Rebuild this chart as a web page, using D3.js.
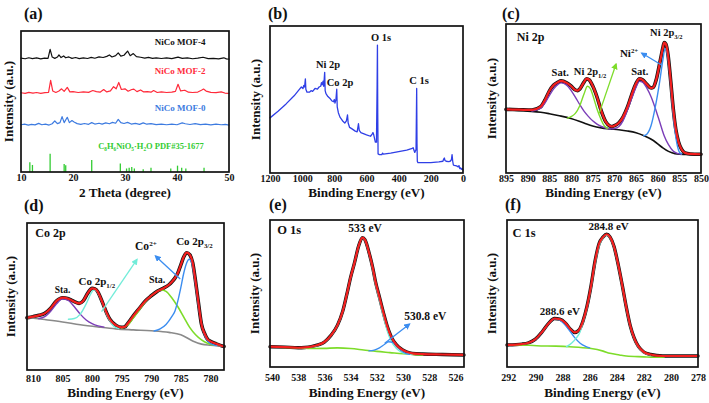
<!DOCTYPE html>
<html><head><meta charset="utf-8">
<script src="https://cdn.jsdelivr.net/npm/d3@7"></script>
<style>
body{margin:0;background:#fff}
svg text{font-family:"Liberation Serif","Times New Roman",serif;font-weight:bold}
</style>
</head><body>
<svg id="c" width="709" height="403"></svg>
<script>
// ---------------- DATA ----------------
// (a) XRD
const xrdTicks = [10, 20, 30, 40, 50];
const mof4 = [[10,80.8],[10.8,80.3],[11.5,81],[12.2,80.4],[13,80.9],[13.8,80.2],[14.5,80.7],[15.2,80.6],[15.6,87],[16,81.5],[16.5,80.6],[17,81.5],[17.3,83],[17.7,81.2],[18.2,82.3],[18.6,81],[19.2,81.6],[19.8,80.6],[20.5,81.2],[21.2,80.4],[22,80.9],[22.8,80.5],[23.5,81.3],[24.2,80.7],[25,81.6],[25.8,81.2],[26.5,82],[27,83],[27.5,81.6],[28.2,82.5],[28.7,84.5],[29.2,82.2],[29.8,82.8],[30.5,85.8],[31,82.5],[31.6,84],[32.2,81.8],[33,81.4],[33.8,80.8],[34.5,81.3],[35.3,80.6],[36,81],[37,80.5],[38,80.9],[39,80.4],[40.2,81.5],[41,80.6],[42,80.9],[43,80.3],[44,80.7],[45,81.4],[46,80.4],[47,80.6],[48,80.2],[49,81],[49.5,80.2],[50,80]];
const mof2 = [[10,56.2],[10.8,55.8],[11.5,56.5],[12.3,55.9],[13,56.4],[13.8,55.8],[14.6,56.3],[15.3,56.5],[15.7,65],[16.1,57.5],[16.7,56.4],[17.3,57.5],[17.8,59],[18.3,57.2],[18.9,60],[19.4,56.8],[20,57],[21,56.4],[22,56.8],[23,56.5],[23.8,57.8],[24.5,57],[25.2,56.6],[25.9,58.5],[26.5,56.8],[27.2,57.5],[27.8,60.5],[28.3,59],[28.8,63.5],[29.3,58.5],[30,59],[30.6,57.3],[31.3,58.5],[31.7,58.8],[32.3,57],[33,58.2],[33.6,56.8],[34.3,57],[35,56.6],[35.5,57.8],[36.2,56.4],[37,56.8],[38,56.4],[39,56.6],[39.7,57.2],[40.2,62.2],[40.7,57.5],[41.5,58],[42.2,56.6],[43,56.4],[44,56.7],[44.7,58],[45.1,58.8],[45.6,57.4],[46.5,56.5],[47.5,56.3],[48.5,56.8],[49.2,56],[50,55.8]];
const mof0 = [[10,33.5],[10.7,33.9],[11.4,33.3],[12,33.8],[12.7,33.4],[13.4,34.5],[14,33.5],[14.7,33.9],[15.4,33.3],[16,34.2],[16.5,36.2],[17,34.3],[17.5,35],[17.9,39.3],[18.3,35],[18.9,38.8],[19.3,35],[19.8,36.5],[20.2,35.5],[20.8,34.3],[21.5,33.8],[22.2,34.4],[23,33.8],[23.6,35],[24.2,34],[25,34.6],[25.6,34],[26.3,34.8],[27,34.2],[27.6,35.2],[28.2,34.6],[28.7,37.3],[29.2,35],[29.8,34.4],[30.5,35.2],[31.2,34],[32,34.5],[32.8,33.8],[33.5,34.8],[34.2,33.9],[35,34.3],[36,33.6],[37,34],[38,33.5],[39,33.9],[40,33.5],[41,34.8],[41.6,34.2],[42.5,33.7],[43.5,34.3],[44.5,33.6],[45.5,33.9],[46.5,33.4],[47.5,34],[48.5,33.5],[49.3,33.8],[50,33.3]];
const pdfSticks = [[11.7,7],[12.2,5],[15.6,13],[18.3,5.7],[18.6,4.8],[23.6,8.5],[29.1,6],[30.3,2.5],[30.8,3],[31.3,3.5],[31.8,2.5],[33.5,2],[35,3],[38.8,2.5],[40.1,4.5],[40.9,3],[41.7,2.5],[45.2,3]];

// (b) survey
const surveyTicks = [1200, 1000, 800, 600, 400, 200, 0];
const survey = [[1200,37.5],[1150,42],[1100,47],[1050,52.5],[1020,56.5],[1005,58.5],[995,57.5],[990,59.5],[985,58.5],[980,64],[977,57],[970,55],[955,55],[945,56],[935,55.5],[920,57.5],[905,57],[895,58.5],[885,59],[880,61.5],[876,60],[870,62.5],[866,59],[860,68.5],[857,56],[852,54],[840,52],[825,50.5],[815,49],[805,48.5],[800,50],[796,47.5],[790,50],[785,57],[782,45],[775,41],[765,38],[745,35],[735,34],[725,35.5],[718,39.5],[714,34],[705,31],[690,30],[670,28.5],[658,28],[650,33.5],[645,29],[635,27.5],[600,26],[575,25],[565,26.5],[560,27.5],[555,26],[545,21],[538,21],[534,60],[532,87],[530,40],[528,13],[520,12.5],[505,12.5],[500,13.5],[495,12.8],[450,13.5],[400,14.5],[350,15.5],[320,16.5],[310,17.2],[300,14],[292,16],[288,57.5],[286,20],[284,8],[280,7],[250,7],[200,7],[150,7.5],[125,8],[120,9.5],[116,10.2],[112,8.5],[105,8],[90,7.8],[80,8],[72,9],[68,12.5],[64,8],[60,5.5],[55,5.2],[40,4.8],[30,4.2],[25,5],[20,3],[15,3.5],[10,2.5],[5,3],[0,2]];

// (c) Ni 2p
const ni2pTicks = [895, 890, 885, 880, 875, 870, 865, 860, 855, 850];
const ni2pFit = [[895,42.7],[892,42.5],[889,42.3],[887,44.5],[886,49],[885,55],[884,59],[883,61],[882.3,61.8],[881,60.5],[880,58.4],[879,55.7],[878.5,55.3],[878,56.3],[877,61],[876.4,63.3],[875.8,62.5],[875,58.5],[874,51],[873,41.5],[872,34.5],[871,31.5],[870.5,31.2],[870,31.7],[869,33.5],[868,37.5],[867,44],[866,52.5],[865,60],[864.2,63.3],[863.5,62.5],[862.5,59.5],[861.5,57],[861,57.5],[860.3,63],[859.5,74],[858.8,84],[858.5,87.5],[858.1,86.5],[857.6,79],[857,62],[856.4,43],[855.8,29],[855.2,21],[854.5,16],[853.7,13.5],[852.5,12.8],[850,12.6]];
const ni2pBg = [[895,42.3],[890,41.5],[887,40.8],[885,39.8],[883,38.6],[880,36.6],[877,33.5],[875,31.5],[873,30.3],[871,29.6],[869,29],[867,28.2],[865,27],[863,24.8],[861,21.8],[859,17.3],[857.5,14.5],[856,13],[854,12.5],[850,12.4]];
const ni2pSat1 = [[889,41.5],[887,43.5],[886,47],[885,52],[884,56.5],[883,59.5],[882.3,60.5],[881,59],[880,55.5],[879,51],[878,46],[877,41.5],[876,38],[875,35],[874,32.8],[873,31.2],[872,30.2],[871,29.7]];
const ni2p12 = [[880.8,36.8],[880,37.8],[879,40],[878,45],[877,53],[876.2,58.2],[875.5,56.5],[875,52.5],[874,43],[873,35.5],[872.5,32.5],[872,30.8],[871.5,30]];
const ni2pSat2 = [[871,29.6],[870,29.8],[869,31],[868,35],[867,42],[866,50],[865,57.5],[864.2,61.5],[863.5,61],[862.5,57],[861.5,51],[860.5,43],[859.5,34],[858.5,25],[857.5,19],[856.5,15],[855.5,13.2],[854.5,12.6]];
const ni2p32 = [[863.2,25],[862.5,26],[861.5,32],[860.5,45],[859.5,62],[858.8,76],[858.3,83.5],[857.8,80],[857.2,66],[856.6,45],[856,28],[855.4,17.5],[855,14],[854.5,12.8]];

// (d) Co 2p
const co2pTicks = [810, 805, 800, 795, 790, 785, 780];
const co2pFit = [[811,35.5],[810,36.3],[809,37.2],[808,38.5],[807,42],[806,47],[805,49.2],[804,48.5],[803.5,47.5],[803,46.5],[802.2,45.3],[801.5,47],[800.7,52.5],[800,55.5],[799.5,55.2],[799,53],[798.5,48.5],[798,43.5],[797.5,38.5],[797,34.5],[796,30.5],[795,29],[794.5,29.3],[794,31.5],[793,37],[792,42],[791,47],[790,50.5],[789,53.5],[788,55.5],[787,58],[786.5,60],[786,62.5],[785.5,66],[785,71.5],[784.5,77],[784,79.8],[783.5,78.5],[783,73],[782.5,60],[782,45],[781.5,31],[781,25],[780.5,21],[780,19.5],[779,17.8],[778,16.3],[777.7,16]];
const co2pBg = [[811,35.8],[808,34.3],[805,32.7],[802,30.8],[799,29.3],[796,28],[793,27.3],[790,26.7],[787,25.6],[785,24],[783,19.8],[781.5,17.6],[780,16.8],[778,16.1],[777.7,16]];
const co2pSta1 = [[809,35],[808,36.3],[807,40],[806,45],[805,48.5],[804,47.3],[803,43],[802,38],[801,34],[800,31.5],[799,30],[798,29.2]];
const co2p12 = [[804,34.5],[803,35],[802,38],[801,45],[800.2,52],[799.7,54.5],[799.2,53.5],[798.5,48],[798,43],[797.5,37.5],[797,33.5],[796.5,30.5],[796,29],[795.5,28.2]];
const co2pSta2 = [[795,28.5],[794,30.5],[793,35.5],[792,41],[791,46.5],[790,50.5],[789,53.5],[788.3,54.5],[787.5,53.5],[786.5,49],[785.5,43],[784.5,36],[783.5,29],[782.5,24],[781.5,20.5],[780.5,18.2],[779.5,17]];
const co2p32 = [[789.5,26.5],[788.5,28],[787.5,31],[786.5,36.5],[786,40],[785.5,47],[785,56],[784.5,66],[784,73],[783.6,75.3],[783.2,73.5],[782.8,66],[782.3,52],[781.8,38],[781.3,28],[780.8,22],[780.3,19],[779.5,17.2],[779,16.6]];

// (e) O 1s
const o1sTicks = [540, 538, 536, 534, 532, 530, 528, 526];
const o1sFit = [[540.15,13.8],[539,13.5],[538,13.1],[537.5,13.3],[537,13.9],[536.5,15],[536,17],[535.5,21.5],[535,28.5],[534.6,38],[534.3,49],[534,61],[533.7,71],[533.4,82],[533.1,88],[532.9,86.5],[532.6,78],[532.3,67],[532.1,58],[531.8,47.5],[531.5,37],[531.2,27.5],[530.9,20.5],[530.5,15],[530.1,12],[529.7,10.2],[529.3,9.3],[528.5,8.8],[527,8.5],[525.35,8.2]];
const o1sBg = [[539.5,13.4],[538,13],[537,12.6],[536,12.7],[535,13],[534,12.6],[533,11.6],[532,10.6],[531,9.8],[530,9],[529,8.4],[528.5,8.2]];
const o1s533 = [[537.5,13],[537,13.7],[536.5,14.8],[536,16.8],[535.5,21.3],[535,28.3],[534.6,37.8],[534.3,48.8],[534,60.8],[533.7,70.8],[533.4,81.8],[533.1,87.8],[532.9,86.2],[532.6,77.5],[532.3,66],[532.1,56.5],[531.8,45.5],[531.5,34.5],[531.2,24.5],[530.9,17.5],[530.5,12.5],[530.1,10],[529.7,9],[529.3,8.5]];
const o1s5308 = [[532.6,11],[532.2,11.5],[531.8,13],[531.4,15.5],[531.1,17.2],[530.8,16.8],[530.5,14.5],[530.1,11],[529.8,9.3],[529.5,8.6]];

// (f) C 1s
const c1sTicks = [292, 290, 288, 286, 284, 282, 280, 278];
const c1sFit = [[292.1,15],[291,15.6],[290.5,16.5],[290,19],[289.5,24],[289,30],[288.6,33],[288.2,32.5],[287.8,30],[287.4,25.5],[287.1,23.5],[286.8,25],[286.5,31],[286.2,41],[285.9,55],[285.6,72],[285.3,84],[285,88.5],[284.75,90.3],[284.5,88.5],[284.2,82],[283.9,70],[283.6,56],[283.3,41],[283,28],[282.7,19.5],[282.4,14],[282,10.2],[281.5,8.5],[280.6,7.5],[278,7.5]];
const c1sBg = [[292.1,15],[290.5,14.8],[289.9,14.5],[288.5,14.2],[287.5,13.8],[286,12.7],[285,10.8],[284.5,9.3],[283.8,8.2],[283.3,7.5],[282,6.9],[281.3,6.6],[280.5,6.8]];
const c1s2886 = [[291,15.5],[290.5,16.4],[290,18.8],[289.5,23.8],[289,29.8],[288.6,32.8],[288.2,31.8],[287.8,28.5],[287.5,25],[287.1,20],[286.7,16.2],[286.3,14],[286,13]];
const c1s2848 = [[287.7,13.8],[287.3,16.5],[287,19.5],[286.7,24],[286.5,30],[286.2,40],[285.9,54],[285.6,70.5],[285.3,82.5],[285,88],[284.75,89.8],[284.5,88],[284.2,81.5],[283.9,69.5],[283.6,55.5],[283.3,40.5],[283,27.5],[282.7,19],[282.4,13.5],[282,9.8],[281.5,8.2]];

// ---------------- DRAW ----------------
const RED = '#f41e1e', PURPLE = '#7b3db8', GREEN = '#7ddc2a', BLUE = '#3b8df0', CYAN = '#72ecd9', GRAY = '#8a8a8a';
const svg = d3.select('#c');
const defs = svg.append('defs');
function marker(id, color) {
  defs.append('marker').attr('id', id).attr('viewBox', '0 0 10 10').attr('refX', 8).attr('refY', 5)
    .attr('markerWidth', 5).attr('markerHeight', 5).attr('orient', 'auto-start-reverse')
    .append('path').attr('d', 'M0,0 L10,5 L0,10 z').attr('fill', color);
}
marker('mGreen', GREEN); marker('mBlue', BLUE); marker('mCyan', CYAN);

function richText(g, x, y, parts, size, color, anchor) {
  const t = g.append('text').attr('x', x).attr('y', y).attr('font-size', size)
    .attr('fill', color || '#111').attr('text-anchor', anchor || 'middle');
  let shift = 0;
  parts.forEach(p => {
    let txt = p, mode = null;
    if (Array.isArray(p)) { txt = p[0]; mode = p[1]; }
    const target = mode === 'sub' ? 0.28 * size : mode === 'sup' ? -0.38 * size : 0;
    const ts = t.append('tspan').text(txt).attr('dy', target - shift);
    if (mode) ts.attr('font-size', size * 0.62);
    shift = target;
  });
  return t;
}

function panel(o) {
  const x = d3.scaleLinear().domain(o.domain).range([o.left, o.right]);
  const y = d3.scaleLinear().domain([0, 100]).range([o.bottom, o.top]);
  const g = svg.append('g');
  const ax = g.append('g').attr('transform', `translate(0,${o.bottom})`)
    .call(d3.axisBottom(x).tickValues(o.ticks).tickSize(0).tickPadding(o.tickBase - o.bottom - 7.1).tickFormat(d3.format('d')));
  ax.select('.domain').remove();
  ax.selectAll('text').attr('font-size', 10).attr('fill', '#111')
    .attr('font-family', '"Liberation Serif","Times New Roman",serif').attr('font-weight', 'bold');
  g.append('text').attr('x', (o.left + o.right) / 2 + (o.xtOff || 0)).attr('y', o.xtBase).attr('text-anchor', 'middle')
    .attr('font-size', 13.2).attr('fill', '#111').text(o.xTitle);
  g.append('text').attr('transform', `translate(${o.left - o.ytOff},${(o.top + o.bottom) / 2}) rotate(-90)`)
    .attr('text-anchor', 'middle').attr('dy', '0.35em').attr('font-size', 13).attr('fill', '#111').text('Intensity (a.u.)');
  g.append('text').attr('x', o.letterX).attr('y', o.letterY).attr('font-size', 16).attr('fill', '#111').text(o.letter);
  const plot = g.append('g');
  g.append('rect').attr('x', o.left).attr('y', o.top).attr('width', o.right - o.left).attr('height', o.bottom - o.top)
    .attr('fill', 'none').attr('stroke', '#111').attr('stroke-width', 1.7);
  const line = (data, color, w, curve) => plot.append('path').datum(data)
    .attr('d', d3.line().x(d => x(d[0])).y(d => y(d[1])).curve(curve || d3.curveLinear))
    .attr('fill', 'none').attr('stroke', color).attr('stroke-width', w).attr('stroke-linejoin', 'round').attr('stroke-linecap', 'round');
  const arrow = (x1, y1, x2, y2, color, m) => plot.append('line').attr('x1', x(x1)).attr('y1', y(y1)).attr('x2', x(x2)).attr('y2', y(y2))
    .attr('stroke', color).attr('stroke-width', 1.3).attr('marker-end', `url(#${m})`);
  const text = (xv, yv, parts, size, color, anchor) => richText(plot, x(xv), y(yv), parts, size, color, anchor);
  return { x, y, g, plot, line, arrow, text };
}

// (a)
{
  const p = panel({ domain: [10, 50], left: 21, right: 229, top: 31, bottom: 172, ticks: xrdTicks, tickBase: 181,
    xTitle: '2 Theta (degree)', xtBase: 197, ytOff: 13, letter: '(a)', letterX: 24, letterY: 19 });
  pdfSticks.forEach(s => p.plot.append('line').attr('x1', p.x(s[0])).attr('x2', p.x(s[0]))
    .attr('y1', p.y(0)).attr('y2', p.y(s[1])).attr('stroke', '#33cc33').attr('stroke-width', 1.3));
  p.line(mof4, '#111', 1.2);
  p.line(mof2, '#ff2a3a', 1.2);
  p.line(mof0, '#3d7be0', 1.2);
  p.text(40.6, 90, ['NiCo MOF-4'], 9, '#111');
  p.text(40.6, 69.5, ['NiCo MOF-2'], 9, '#ff2a3a');
  p.text(40.6, 43.3, ['NiCo MOF-0'], 9, '#3d7be0');
  p.text(35, 16.3, ['C', ['8', 'sub'], 'H', ['6', 'sub'], 'NiO', ['5', 'sub'], '·H', ['2', 'sub'], 'O PDF#35-1677'], 8.5, '#33cc33');
}
// (b)
{
  const p = panel({ domain: [1200, 0], left: 270, right: 463, top: 26, bottom: 173, ticks: surveyTicks, tickBase: 182,
    xTitle: 'Binding Energy (eV)', xtBase: 197, ytOff: 15, letter: '(b)', letterX: 268, letterY: 19 });
  p.line(survey, '#2f3fe6', 1.3);
  p.text(839, 71.4, ['Ni 2p'], 10.5);
  p.text(765, 59, ['Co 2p'], 10.5);
  p.text(510, 89.8, ['O 1s'], 10.5);
  p.text(273, 60.5, ['C 1s'], 10.5);
}
// (c)
{
  const p = panel({ domain: [895, 850], left: 506, right: 701, top: 24, bottom: 173, ticks: ni2pTicks, tickBase: 182,
    xTitle: 'Binding Energy (eV)', xtBase: 197, ytOff: 15, letter: '(c)', letterX: 502, letterY: 19 });
  const mc = d3.curveMonotoneX;
  p.line(ni2pFit, '#111', 3.6, mc);
  p.line(ni2pBg, '#111', 1.6, mc);
  p.line(ni2pSat1, PURPLE, 1.4, mc);
  p.line(ni2pSat2, PURPLE, 1.4, mc);
  p.line(ni2p12, GREEN, 1.4, mc);
  p.line(ni2p32, BLUE, 1.4, mc);
  p.line(ni2pFit, RED, 2.2, mc);
  p.arrow(873.5, 40, 869.6, 73.2, GREEN, 'mGreen');
  p.arrow(859.1, 72.5, 863.7, 80.5, BLUE, 'mBlue');
  p.text(892.5, 88.6, ['Ni 2p'], 12, '#111', 'start');
  p.text(882.5, 65, ['Sat.'], 10.5);
  p.text(875.6, 65.8, ['Ni 2p', ['1/2', 'sub']], 10.5);
  p.text(864.1, 65.8, ['Sat.'], 10.5);
  p.text(866.6, 77.9, ['Ni', ['2+', 'sup']], 11);
  p.text(858, 92, ['Ni 2p', ['3/2', 'sub']], 10.5);
}
// (d)
{
  const p = panel({ domain: [811, 777.7], left: 27, right: 224, top: 223, bottom: 370, ticks: co2pTicks, tickBase: 382,
    xTitle: 'Binding Energy (eV)', xtBase: 397, ytOff: 17, letter: '(d)', letterX: 24, letterY: 211 });
  const mc = d3.curveMonotoneX;
  p.line(co2pFit, '#111', 3.6, mc);
  p.line(co2pBg, GRAY, 1.6, mc);
  p.line(co2pSta1, PURPLE, 1.4, mc);
  p.line(co2p12, CYAN, 1.4, mc);
  p.line(co2pSta2, GREEN, 1.6, mc);
  p.line(co2p32, BLUE, 1.4, mc);
  p.line(co2pFit, RED, 2.2, mc);
  p.arrow(798.4, 39.7, 792.4, 75.3, CYAN, 'mCyan');
  p.arrow(785.1, 61.9, 789.3, 77.6, BLUE, 'mBlue');
  p.text(809.6, 90.5, ['Co 2p'], 12, '#111', 'start');
  p.text(805, 52.4, ['Sta.'], 9.5);
  p.text(799.2, 57.8, ['Co 2p', ['1/2', 'sub']], 11);
  p.text(789, 59.2, ['Sta.'], 10);
  p.text(790.9, 81.6, ['Co', ['2+', 'sup']], 11.5);
  p.text(782.7, 85, ['Co 2p', ['3/2', 'sub']], 11);
}
// (e)
{
  const p = panel({ domain: [540.15, 525.35], left: 270, right: 464, top: 220, bottom: 367, ticks: o1sTicks, tickBase: 381,
    xTitle: 'Binding Energy (eV)', xtBase: 397, ytOff: 16, letter: '(e)', letterX: 269, letterY: 210 });
  const mc = d3.curveMonotoneX;
  p.line(o1sFit, '#111', 3.4, mc);
  p.line(o1sBg, GREEN, 1.6, mc);
  p.line(o1s533, CYAN, 1.4, mc);
  p.line(o1s5308, BLUE, 1.4, mc);
  p.line(o1sFit, RED, 2.2, mc);
  p.arrow(531.4, 16.1, 529.5, 29.3, BLUE, 'mBlue');
  p.text(539.6, 90.5, ['O 1s'], 12.5, '#111', 'start');
  p.text(532.9, 91.8, ['533 eV'], 11.5);
  p.text(528.3, 32, ['530.8 eV'], 11.5);
}
// (f)
{
  const p = panel({ domain: [292.1, 278], left: 507, right: 698, top: 220, bottom: 367, ticks: c1sTicks, tickBase: 381,
    xTitle: 'Binding Energy (eV)', xtBase: 397, ytOff: 16, letter: '(f)', letterX: 505, letterY: 210 });
  const mc = d3.curveMonotoneX;
  p.line(c1sFit, '#111', 3.4, mc);
  p.line(c1sBg, GREEN, 1.6, mc);
  p.line(c1s2886, BLUE, 1.4, mc);
  p.line(c1s2848, CYAN, 1.4, mc);
  p.line(c1sFit, RED, 2.2, mc);
  p.text(291.7, 88.4, ['C 1s'], 12.5, '#111', 'start');
  p.text(284.6, 93.2, ['284.8 eV'], 11);
  p.text(288.2, 35.4, ['288.6 eV'], 11);
}
</script>
</body></html>
